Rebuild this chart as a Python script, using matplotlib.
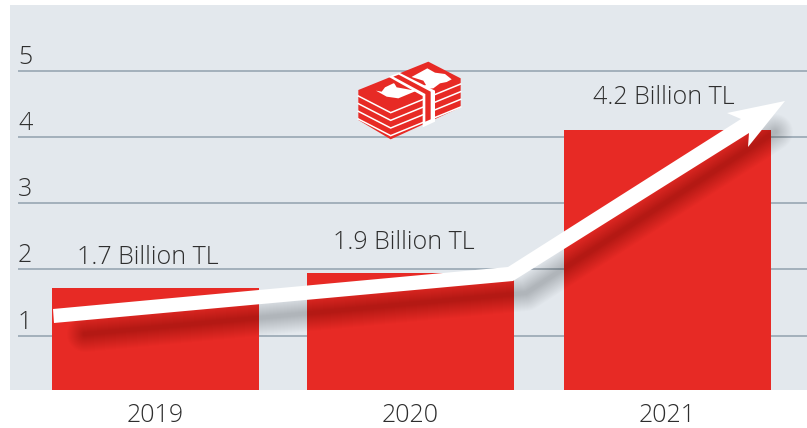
import matplotlib
matplotlib.use("Agg")
import matplotlib.pyplot as plt
from matplotlib.patches import Polygon
from matplotlib.transforms import Affine2D, ScaledTranslation

years = ["2019", "2020", "2021"]
bar_positions = [0, 0.996, 2]
bar_heights = [1.72, 1.95, 4.11]
bar_labels = ["1.7 Billion TL", "1.9 Billion TL", "4.2 Billion TL"]
y_ticks = [1, 2, 3, 4, 5]

RED = "#e72a25"
BG = "#e3e8ed"
GRID = "#a3b0bb"
INK = "#2e2e2e"
plt.rcParams["font.family"] = ["Open Sans", "DejaVu Sans"]
FS = 18
WT = "light"

W, H = 807, 428
fig = plt.figure(figsize=(W / 100, H / 100), dpi=100, facecolor="white")
ax = fig.add_axes([10 / W, 1 - 390 / H, (W - 10) / W, 385 / H], facecolor=BG)
ax.set_xlim(-0.568, 2.545)
ax.set_ylim(0.18, 5.99)
for s in ax.spines.values():
    s.set_visible(False)

ax.hlines(y_ticks, -0.537, 2.545, color=GRID, lw=1.4, zorder=1)
ax.bar(bar_positions, bar_heights, width=0.81, color=RED, zorder=2)

ax.set_xticks(bar_positions, years, fontsize=FS, color=INK, fontweight=WT)
ax.set_yticks(y_ticks, [str(v) for v in y_ticks], fontsize=FS, color=INK, fontweight=WT)
ax.tick_params(axis="both", length=0)
ax.tick_params(axis="x", pad=9)
ax.tick_params(axis="y", pad=0)
for lab in ax.get_yticklabels():
    lab.set_ha("left")
    lab.set_va("bottom")
    lab.set_transform(lab.get_transform() + ScaledTranslation(8 / 100, 1 / 100, fig.dpi_scale_trans))

label_off = [(-8, 18), (-7, 18), (-4, 20)]
for x, h, t, off in zip(bar_positions, bar_heights, bar_labels, label_off):
    ax.annotate(t, (x, h), xytext=off, textcoords="offset pixels", ha="center", va="bottom",
                fontsize=FS, color=INK, fontweight=WT, zorder=6)

# pixel coordinates of the picture -> display
px = Affine2D().scale(1, -1).translate(0, H)

# soft shadow of the arrow
shadow_x = [85, 526, 775]
shadow_y = [334, 293, 132]
for w in range(36, 2, -2):
    ax.plot(shadow_x, shadow_y, transform=px, color="black", alpha=0.011, lw=w * 0.72,
            solid_capstyle="round", solid_joinstyle="round", zorder=3)

arrow = [(53, 309), (508, 267), (741, 119), (727, 113), (785, 101),
         (748, 147), (749, 133), (513, 281), (54, 323)]
ax.add_patch(Polygon(arrow, closed=True, transform=px, fc="white", ec="none", zorder=4, clip_on=False))

# banknote icon, traced in zoom units
def z(pts):
    return [(340 + a / 3, 50 + b / 3) for a, b in pts]

def poly(pts, color, zo=5):
    ax.add_patch(Polygon(z(pts), closed=True, transform=px, fc=color, ec="none", zorder=zo, clip_on=False))

poly([(55, 120), (265, 35), (362, 85), (362, 172), (152, 268), (55, 210)], RED)
for dy in (0, 23, 46, 69):
    ax.plot(*zip(*z([(55, 138 + dy), (152, 188 + dy), (362, 102 + dy)])), transform=px,
            color="white", lw=1.1, zorder=5.1, solid_joinstyle="miter")
poly([(108, 122), (125, 125), (135, 112), (160, 100), (180, 100), (262, 55), (285, 68),
      (315, 72), (335, 88), (320, 96), (300, 100), (280, 115), (240, 118), (175, 145), (140, 140)], "white", 5.2)
poly([(158, 92), (205, 78), (250, 92), (258, 105), (215, 120), (170, 112)], RED, 5.3)
poly([(145, 80), (178, 68), (285, 122), (285, 215), (248, 232), (248, 138)], "white", 5.4)
poly([(160, 80), (176, 74), (272, 125), (272, 208), (256, 215), (256, 132)], RED, 5.5)

fig.savefig("out.png", dpi=100, facecolor="white")
